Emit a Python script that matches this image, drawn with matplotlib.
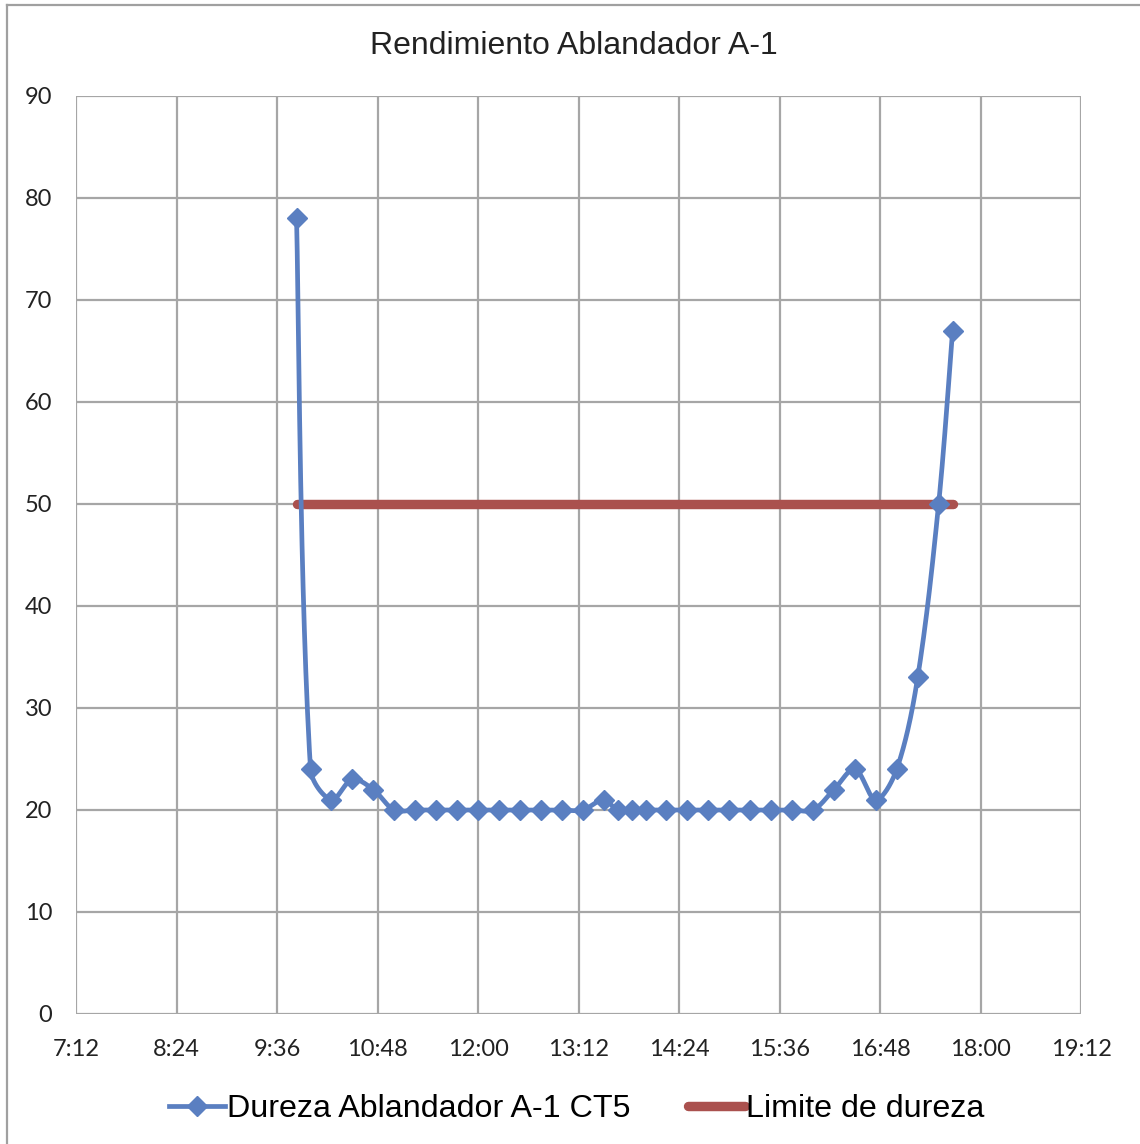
import numpy as np
import matplotlib
matplotlib.use("Agg")
import matplotlib.pyplot as plt
from matplotlib.lines import Line2D

# ---- data ----
times = ["9:50", "10:00", "10:15", "10:30", "10:45", "11:00", "11:15", "11:30",
         "11:45", "12:00", "12:15", "12:30", "12:45", "13:00", "13:15", "13:30",
         "13:40", "13:50", "14:00", "14:15", "14:30", "14:45", "15:00", "15:15",
         "15:30", "15:45", "16:00", "16:15", "16:30", "16:45", "17:00", "17:15",
         "17:30", "17:40"]
dureza = [78, 24, 21, 23, 22, 20, 20, 20, 20, 20, 20, 20, 20, 20, 20, 21,
          20, 20, 20, 20, 20, 20, 20, 20, 20, 20, 20, 22, 24, 21, 24, 33, 50, 67]
limite = [50] * len(times)
x_ticks = ["7:12", "8:24", "9:36", "10:48", "12:00", "13:12", "14:24",
           "15:36", "16:48", "18:00", "19:12"]
y_ticks = [0, 10, 20, 30, 40, 50, 60, 70, 80, 90]

title = "Rendimiento Ablandador A-1"
label_dureza = "Dureza Ablandador A-1 CT5"
label_limite = "Limite de dureza"


def to_min(s):
    h, m = s.split(":")
    return int(h) * 60 + int(m)


x = np.array([to_min(t) for t in times], dtype=float)
y = np.array(dureza, dtype=float)
xt = [to_min(t) for t in x_ticks]

AX_W_PX, AX_H_PX = 1005.0, 918.0


def smooth(xs, ys, n=30, s=1.0 / 3.0):
    # length-weighted cubic Bezier smoothing computed in pixel space
    sxp = AX_W_PX / (xt[-1] - xt[0])
    syp = AX_H_PX / 90.0
    P = np.column_stack([xs * sxp, ys * syp])
    N = len(P)
    L = np.linalg.norm(np.diff(P, axis=0), axis=1)
    T = np.zeros_like(P)
    for i in range(N):
        a = P[max(i - 1, 0)]
        b = P[min(i + 1, N - 1)]
        T[i] = b - a
    out = []
    for i in range(N - 1):
        p1, p2 = P[i], P[i + 1]
        lprev = L[i - 1] if i > 0 else L[i]
        lnext = L[i + 1] if i + 1 < N - 1 else L[i]
        c1 = p1 + T[i] * s * L[i] / (lprev + L[i]) if i > 0 else p1 + (p2 - p1) * s * 0.5
        c2 = p2 - T[i + 1] * s * L[i] / (L[i] + lnext) if i + 1 < N - 1 else p2 - (p2 - p1) * s * 0.5
        t = np.linspace(0, 1, n, endpoint=False)[:, None]
        seg = (1 - t) ** 3 * p1 + 3 * (1 - t) ** 2 * t * c1 + 3 * (1 - t) * t ** 2 * c2 + t ** 3 * p2
        out.append(seg)
    out.append(P[-1:])
    out = np.vstack(out)
    return out[:, 0] / sxp, out[:, 1] / syp


blue = "#5A7FC1"
red = "#AA514E"
grid_c = "#A6A6A6"

fig = plt.figure(figsize=(11.4, 11.44), dpi=100)
ax = fig.add_axes([76 / 1140, 1 - 1014 / 1144, (1081 - 76) / 1140, (1014 - 96) / 1144])

ax.plot(x, limite, color=red, lw=6.8, solid_capstyle="round", zorder=3)
sx, sy = smooth(x, y)
ax.plot(sx, sy, color=blue, lw=3.4, zorder=4)
ax.plot(x, y, ls="none", marker="D", ms=10.5, color=blue, mec=blue, zorder=5)

ax.set_xlim(xt[0], xt[-1])
ax.set_ylim(0, 90)
ax.set_xticks(xt)
ax.set_xticklabels(x_ticks)
ax.set_yticks(y_ticks)
ax.grid(True, color=grid_c, lw=1.6)
ax.set_axisbelow(True)
for s in ax.spines.values():
    s.set_visible(False)
ax.tick_params(length=0, labelsize=17, colors="#222222")
ax.tick_params(axis="x", pad=18)
ax.tick_params(axis="y", pad=17)
for lab in ax.get_xticklabels() + ax.get_yticklabels():
    lab.set_family("Lato")

fig.text(0.503, 1 - 46 / 1144, title, ha="center", va="center",
         fontsize=23, family="Liberation Sans", color="#222222")

handles = [Line2D([], [], color=blue, lw=3.4, marker="D", ms=10.5),
           Line2D([], [], color=red, lw=6.8, solid_capstyle="round")]
fig.legend(handles, [label_dureza, label_limite], loc="center",
           bbox_to_anchor=(0.506, 1 - 1109 / 1144), ncol=2, frameon=False,
           prop={"family": "Liberation Sans", "size": 23.2},
           handlelength=1.75, handletextpad=0.05, columnspacing=1.8)

# figure border
fig.add_artist(plt.Line2D([7 / 1140, 7 / 1140], [0, 1 - 5 / 1144], transform=fig.transFigure,
                          color="#A0A0A0", lw=1.6))
fig.add_artist(plt.Line2D([7 / 1140, 1], [1 - 5 / 1144, 1 - 5 / 1144], transform=fig.transFigure,
                          color="#A0A0A0", lw=1.6))

fig.savefig("out.png", dpi=100)
